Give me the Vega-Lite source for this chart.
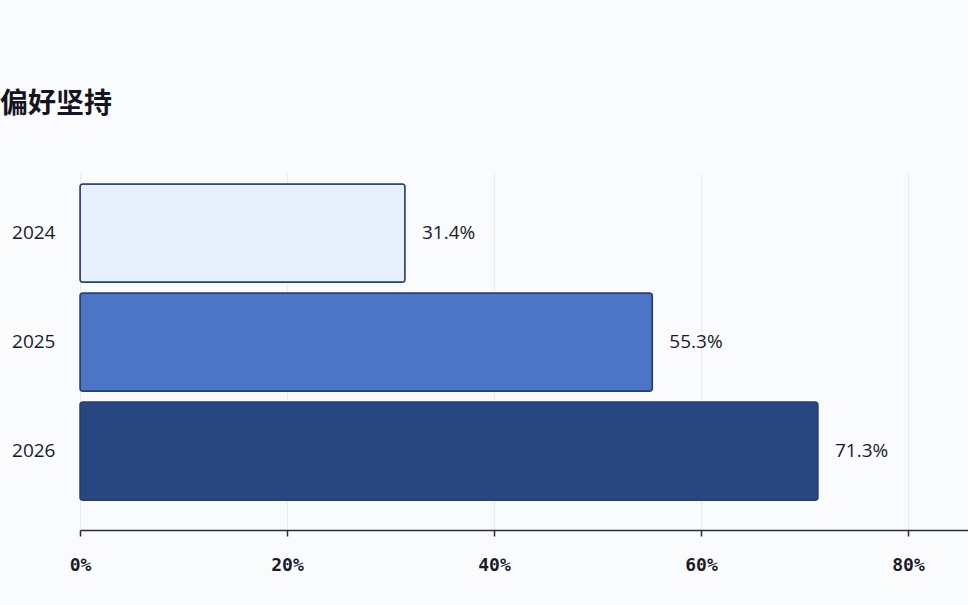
{
  "$schema": "https://vega.github.io/schema/vega-lite/v6.json",
  "autosize": {"type": "none"},
  "width": 888,
  "height": 357,
  "padding": {"left": 80, "top": 173, "right": 0, "bottom": 75},
  "background": "#fafbfd",
  "title": {
    "text": "偏好坚持",
    "anchor": "start",
    "frame": "group",
    "dx": -80,
    "offset": 54,
    "font": "Noto Sans CJK SC",
    "fontSize": 28,
    "fontWeight": "bold",
    "color": "#15151f"
  },
  "config": {
    "view": {"stroke": null},
    "font": "Open Sans"
  },
  "data": {
    "values": [
      {"year": "2024", "value": 0.314, "label": "31.4%"},
      {"year": "2025", "value": 0.553, "label": "55.3%"},
      {"year": "2026", "value": 0.713, "label": "71.3%"}
    ]
  },
  "encoding": {
    "y": {
      "field": "year",
      "type": "nominal",
      "sort": ["2024", "2025", "2026"],
      "scale": {"paddingInner": 0.1, "paddingOuter": 0.1875, "align": 0.27},
      "axis": {
        "title": null,
        "domain": false,
        "ticks": false,
        "labelPadding": 25,
        "labelFont": "Open Sans",
        "labelFontSize": 19,
        "labelColor": "#1a1a2a"
      }
    },
    "x": {
      "field": "value",
      "type": "quantitative",
      "scale": {"domain": [0, 0.858], "nice": false},
      "axis": {
        "title": null,
        "values": [0, 0.2, 0.4, 0.6, 0.8],
        "format": ".0%",
        "grid": true,
        "gridColor": "#e8eaf0",
        "gridWidth": 1,
        "domainColor": "#2b2b3a",
        "domainWidth": 1.5,
        "tickColor": "#2b2b3a",
        "tickSize": 6,
        "tickWidth": 1.5,
        "labelFlush": false,
        "labelPadding": 20,
        "labelFont": "DejaVu Sans Mono",
        "labelFontSize": 18,
        "labelFontWeight": "bold",
        "labelColor": "#1a1a2a"
      }
    }
  },
  "layer": [
    {
      "mark": {"type": "bar", "cornerRadius": 3, "stroke": "#26406e", "strokeWidth": 1.5},
      "encoding": {
        "color": {
          "field": "year",
          "type": "nominal",
          "scale": {"domain": ["2024", "2025", "2026"], "range": ["#e8f0fd", "#4c75c6", "#284781"]},
          "legend": null
        }
      }
    },
    {
      "mark": {"type": "text", "align": "left", "dx": 17, "fontSize": 19, "font": "Open Sans", "color": "#1a1a2a"},
      "encoding": {"text": {"field": "label"}}
    }
  ]
}
